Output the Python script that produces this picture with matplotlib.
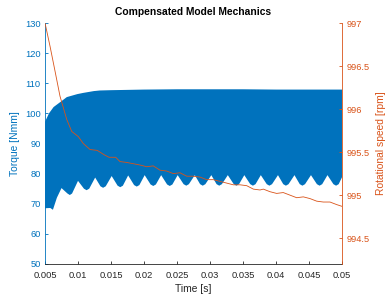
import numpy as np
import matplotlib
matplotlib.use("Agg")
import matplotlib.pyplot as plt

# torque band (dense oscillation) -> upper and lower envelope
time_upper = [0.0050, 0.0056, 0.0063, 0.0074, 0.0083, 0.0099, 0.0108, 0.0124,
              0.0133, 0.0150, 0.0175, 0.0200, 0.0250, 0.0300, 0.0350, 0.0400,
              0.0450, 0.0500]
torque_upper = [97.2, 100.0, 102.1, 103.9, 105.4, 106.4, 106.8, 107.4,
                107.6, 107.7, 107.8, 107.9, 108.0, 108.0, 108.0, 107.9,
                107.9, 107.9]

time_lower = [0.0050, 0.0058, 0.0062, 0.0068, 0.0075,
              0.0084, 0.00876, 0.0091, 0.0100,
              0.0109, 0.0113, 0.0117, 0.0126,
              0.0134, 0.0138, 0.0142, 0.0151,
              0.0160, 0.0164, 0.0168, 0.0176,
              0.0185, 0.0189, 0.0193, 0.0201,
              0.0210, 0.0214, 0.0218, 0.0226,
              0.0235, 0.0239, 0.0243, 0.0251,
              0.0260, 0.0264, 0.0268, 0.0277,
              0.0285, 0.0289, 0.0293, 0.0302,
              0.0310, 0.0314, 0.0318, 0.0327,
              0.0336, 0.0340, 0.0344, 0.0352,
              0.0361, 0.0365, 0.0369, 0.0377,
              0.0386, 0.0390, 0.0394, 0.0403,
              0.0411, 0.0415, 0.0419, 0.0428,
              0.0436, 0.0440, 0.0444, 0.0453,
              0.0462, 0.0466, 0.0470, 0.0478,
              0.0487, 0.0491, 0.0495, 0.0500]
torque_lower = [68.5, 68.6, 68.0, 72.0, 75.2,
                73.4, 72.9, 73.4, 77.6,
                75.0, 74.5, 75.0, 78.7,
                75.8, 75.3, 75.8, 79.2,
                76.0, 75.5, 76.0, 79.4,
                76.2, 75.7, 76.2, 79.5,
                76.4, 75.9, 76.4, 79.5,
                76.4, 75.9, 76.4, 79.5,
                76.5, 76.0, 76.5, 79.5,
                76.5, 76.0, 76.5, 79.5,
                76.5, 76.0, 76.5, 79.5,
                76.5, 76.0, 76.5, 79.5,
                76.5, 76.0, 76.5, 79.5,
                76.5, 76.0, 76.5, 79.5,
                76.5, 76.0, 76.5, 79.5,
                76.5, 76.0, 76.5, 79.5,
                76.5, 76.0, 76.5, 79.5,
                76.5, 76.0, 76.5, 78.8]

# rotational speed
time_speed = [0.0050, 0.00576, 0.00652, 0.00727, 0.00829, 0.00905, 0.01005,
              0.0108, 0.01182, 0.01292, 0.01394, 0.0147, 0.01571, 0.01636,
              0.01738, 0.0194, 0.0204, 0.0214, 0.02242, 0.02344, 0.02444,
              0.02545, 0.02647, 0.02747, 0.02848, 0.0295, 0.0305, 0.03152,
              0.03253, 0.03353, 0.03455, 0.03556, 0.03657, 0.03758, 0.03808,
              0.03909, 0.0401, 0.0411, 0.04212, 0.04314, 0.04414, 0.04515,
              0.04617, 0.04717, 0.04818, 0.0492, 0.0500]
speed = [997.0, 996.73, 996.44, 996.15, 995.88, 995.74, 995.68,
         995.60, 995.53, 995.52, 995.47, 995.44, 995.44, 995.39,
         995.38, 995.35, 995.33, 995.34, 995.29, 995.28, 995.25,
         995.26, 995.22, 995.22, 995.21, 995.18, 995.18, 995.16,
         995.14, 995.12, 995.12, 995.11, 995.07, 995.06, 995.07,
         995.04, 995.02, 995.03, 995.00, 994.97, 994.98, 994.96,
         994.93, 994.92, 994.92, 994.89, 994.87]

x_ticks = [0.005, 0.01, 0.015, 0.02, 0.025, 0.03, 0.035, 0.04, 0.045, 0.05]
x_ticklabels = ["0.005", "0.01", "0.015", "0.02", "0.025", "0.03", "0.035",
                "0.04", "0.045", "0.05"]
torque_ticks = [50, 60, 70, 80, 90, 100, 110, 120, 130]
speed_ticks = [994.5, 995, 995.5, 996, 996.5, 997]
speed_ticklabels = ["994.5", "995", "995.5", "996", "996.5", "997"]

blue = "#0072BD"
orange = "#D95319"
dark = "#262626"

plt.rcParams["font.family"] = ["Liberation Sans", "DejaVu Sans"]

fig = plt.figure(figsize=(3.87, 2.98), dpi=100)
ax = fig.add_axes([0.1163, 0.1141, 0.7674, 0.8087])

# fill the band between envelopes
poly_t = np.concatenate([time_upper, time_lower[::-1]])
poly_v = np.concatenate([torque_upper, torque_lower[::-1]])
ax.fill(poly_t, poly_v, color=blue, linewidth=0)

ax.set_xlim(0.005, 0.05)
ax.set_ylim(50, 130)
ax.set_xticks(x_ticks)
ax.set_xticklabels(x_ticklabels)
ax.set_yticks(torque_ticks)
ax.tick_params(axis="x", direction="in", length=2.5, width=0.6, colors=dark,
               labelsize=6.7, pad=5)
ax.tick_params(axis="y", direction="in", length=2.5, width=0.6, colors=blue,
               labelsize=6.7, pad=3)
ax.spines["top"].set_visible(False)
ax.spines["right"].set_visible(False)
ax.spines["left"].set_color(blue)
ax.spines["bottom"].set_color(dark)
for s in ax.spines.values():
    s.set_linewidth(0.6)
ax.set_xlabel("Time [s]", fontsize=7.4, color=dark, labelpad=3)
ax.set_ylabel("Torque [Nmm]", fontsize=7.4, color=blue, labelpad=4)
ax.set_title("Compensated Model Mechanics", fontsize=7.4, fontweight="bold",
             color="black", pad=6)

ax2 = ax.twinx()
ax2.plot(time_speed, speed, color=orange, linewidth=0.6)
ax2.set_ylim(994.2, 997)
ax2.set_yticks(speed_ticks)
ax2.set_yticklabels(speed_ticklabels)
ax2.tick_params(axis="y", direction="in", length=2.5, width=0.6, colors=orange,
                labelsize=6.7, pad=3)
ax2.spines["top"].set_visible(False)
ax2.spines["left"].set_visible(False)
ax2.spines["bottom"].set_visible(False)
ax2.spines["right"].set_color(orange)
ax2.spines["right"].set_linewidth(0.6)
ax2.set_ylabel("Rotational speed [rpm]", fontsize=7.4, color=orange, labelpad=5)

plt.savefig("out.png", dpi=100)
